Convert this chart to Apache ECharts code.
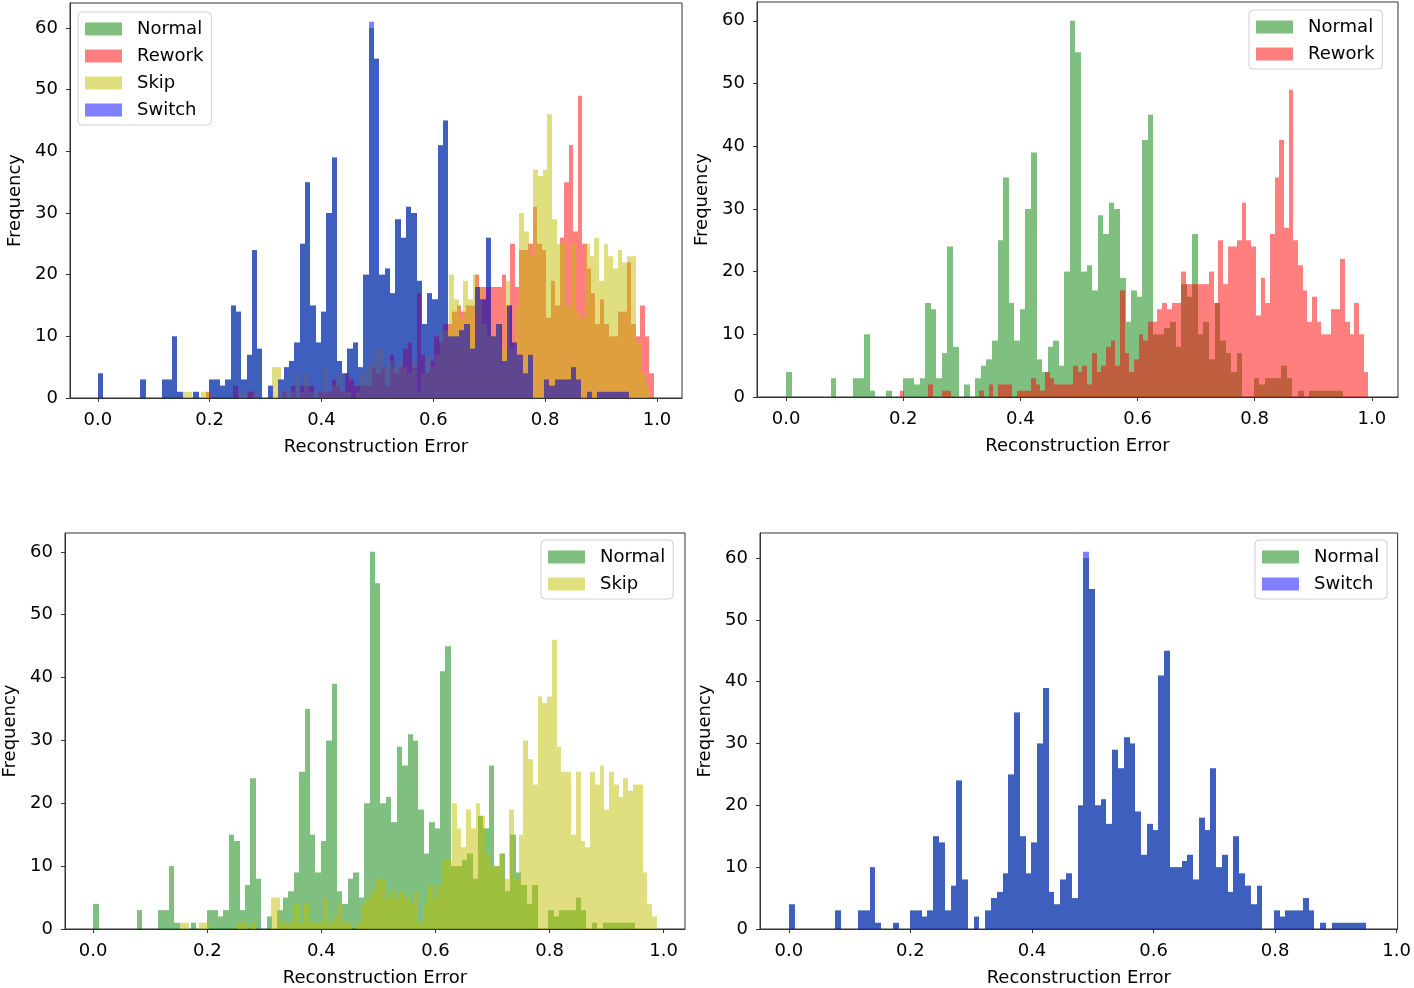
<!DOCTYPE html>
<html>
<head>
<meta charset="utf-8">
<title>Reconstruction Error histograms</title>
<script src="https://cdn.jsdelivr.net/npm/echarts@6/dist/echarts.min.js"></script>
<style>
  html, body { margin: 0; padding: 0; background: #fff; }
  #chart { width: 1414px; height: 988px; }
</style>
</head>
<body>
<div id="chart"></div>
<script>
// histogram counts, 100 bins per class
const normalCounts = [4,0,0,0,0,0,0,0,3,0, 0,0,3,3,10,1,0,0,1,0, 0,3,3,2,3,15,14,3,7,24,
  8,0,2,0,3,5,6,9,25,35, 15,9,14,30,39,6,4,8,9,5, 20,60,55,20,21,17,29,26,31,30,
  19,12,17,16,41,45,10,10,11,12, 8,18,16,26,10,12,6,15,9,7, 4,7,0,0,3,2,3,3,3,5,
  3,0,1,0,1,1,1,1,1,1];
const switchCounts = [4,0,0,0,0,0,0,0,3,0, 0,0,3,3,10,1,0,0,1,0, 0,3,3,2,3,15,14,3,7,24,
  8,0,2,0,3,5,6,9,25,35, 15,9,14,30,39,6,4,8,9,5, 20,61,55,20,21,17,29,26,31,30,
  19,12,17,16,41,45,10,10,11,12, 8,18,16,26,10,12,6,15,9,7, 4,7,0,0,3,2,3,3,3,5,
  3,0,1,0,1,1,1,1,1,1];
const reworkCounts = [1,0,0,0,0,0,2,0,0,1, 1,0,0,0,0,0,0,1,0,2, 0,2,2,2,0,1,1,1,3,2,
  1,4,3,2,2,2,2,5,4,5, 2,7,4,5,8,9,5,17,7,4, 6,10,9,12,12,14,15,14,15,15,
  20,18,18,18,18,18,20,15,25,18, 24,24,25,31,25,24,13,19,15,26, 35,41,27,49,25,21,17,12,16,12,
  10,10,14,14,22,12,10,15,10,4];
const skipCounts = [1,1,0,0,1,1,0,0,0,0, 0,0,1,1,0,1,0,0,0,5, 5,1,1,1,4,1,4,1,1,1,
  5,1,2,4,1,1,0,1,4,5, 6,8,8,5,6,5,6,5,4,6, 1,4,7,5,7,11,11,20,16,13,
  19,16,20,18,12,10,10,12,8,19, 8,15,30,27,23,37,36,37,46,29, 25,25,15,25,14,13,25,23,26,19,
  25,23,21,24,22,23,23,9,4,2];

// first bin edge and bin width of each class
const normalBins = [0.0, 0.0095];
const switchBins = [0.0, 0.0095];
const reworkBins = [0.194, 0.008];
const skipBins = [0.152, 0.00836];

const xTicks = [0, 0.2, 0.4, 0.6, 0.8, 1.0];
const yTicks = [0, 10, 20, 30, 40, 50, 60];

const classes = {
  Normal: { counts: normalCounts, bins: normalBins, color: 'rgba(0,128,0,0.5)' },
  Rework: { counts: reworkCounts, bins: reworkBins, color: 'rgba(255,0,0,0.5)' },
  Skip: { counts: skipCounts, bins: skipBins, color: 'rgba(191,191,0,0.5)' },
  Switch: { counts: switchCounts, bins: switchBins, color: 'rgba(0,0,255,0.5)' }
};

const panels = [
  { grid: { left: 70, top: 3, width: 612, height: 395 }, x: [-0.0497, 1.0447], yMax: 64.05,
    names: ['Normal', 'Rework', 'Skip', 'Switch'], legend: { left: 78, top: 12 } },
  { grid: { left: 757, top: 2, width: 641, height: 395 }, x: [-0.0497, 1.0447], yMax: 63,
    names: ['Normal', 'Rework'], legend: { left: 1249, top: 10 } },
  { grid: { left: 64, top: 533, width: 621, height: 399 }, x: [-0.0494, 1.0374], yMax: 63,
    names: ['Normal', 'Skip'], legend: { left: 541, top: 540 } },
  { grid: { left: 760, top: 533, width: 643, height: 400 }, x: [-0.0475, 1.0015], yMax: 64.05,
    names: ['Normal', 'Switch'], legend: { left: 1255, top: 540 } }
];

function histData(name) {
  const c = classes[name];
  return c.counts.map((v, i) => [c.bins[0] + i * c.bins[1], c.bins[0] + (i + 1) * c.bins[1], v]);
}

function histItem(color) {
  return function (params, api) {
    const a = api.coord([api.value(0), api.value(2)]);
    const b = api.coord([api.value(1), 0]);
    // snap bin edges to whole pixels so neighbouring bars leave no seam
    const x0 = Math.round(a[0]), x1 = Math.round(b[0]);
    return {
      type: 'rect',
      shape: { x: x0, y: a[1], width: x1 - x0, height: b[1] - a[1] },
      style: { fill: color }
    };
  };
}

const font = 'DejaVu Sans';
const grids = [], xAxes = [], yAxes = [], legends = [], series = [];

panels.forEach((p, k) => {
  grids.push(Object.assign({ show: true, borderColor: '#333', borderWidth: 1, backgroundColor: '#fff' }, p.grid));
  xAxes.push({
    type: 'value', gridIndex: k, min: p.x[0], max: p.x[1],
    name: 'Reconstruction Error', nameLocation: 'middle', nameGap: 40,
    nameTextStyle: { fontFamily: font, fontSize: 18, color: '#000' },
    axisLine: { show: true, onZero: false, lineStyle: { color: '#333', width: 1 } },
    axisTick: { show: true, length: 4, customValues: xTicks, lineStyle: { color: '#333' } },
    axisLabel: { customValues: xTicks, margin: 13, formatter: v => v.toFixed(1),
      fontFamily: font, fontSize: 18, color: '#000' },
    splitLine: { show: false }
  });
  yAxes.push({
    type: 'value', gridIndex: k, min: 0, max: p.yMax,
    name: 'Frequency', nameLocation: 'middle', nameGap: 46, nameRotate: 90,
    nameTextStyle: { fontFamily: font, fontSize: 18, color: '#000' },
    axisLine: { show: true, onZero: false, lineStyle: { color: '#333', width: 1 } },
    axisTick: { show: true, length: 4, customValues: yTicks, lineStyle: { color: '#333' } },
    axisLabel: { customValues: yTicks, margin: 12, padding: [11, 0, 0, 0],
      fontFamily: font, fontSize: 18, color: '#000' },
    splitLine: { show: false }
  });
  legends.push({
    orient: 'vertical', left: p.legend.left, top: p.legend.top,
    icon: 'rect', itemWidth: 37, itemHeight: 13, itemGap: 9,
    padding: [8, 8, 6, 7],
    backgroundColor: 'rgba(255,255,255,0.8)', borderColor: '#d0d0d0', borderWidth: 1, borderRadius: 4,
    selectedMode: false,
    textStyle: { fontFamily: font, fontSize: 18, color: '#000', padding: [0, 0, 0, 10] },
    data: p.names.map(n => ({ name: n, itemStyle: { color: classes[n].color } }))
  });
  p.names.forEach(n => {
    series.push({
      name: n, type: 'custom', xAxisIndex: k, yAxisIndex: k,
      renderItem: histItem(classes[n].color),
      itemStyle: { color: classes[n].color },
      encode: { x: [0, 1], y: 2 },
      data: histData(n),
      silent: true
    });
  });
});

const myChart = echarts.init(document.getElementById('chart'));
myChart.setOption({
  animation: false,
  backgroundColor: '#fff',
  grid: grids,
  xAxis: xAxes,
  yAxis: yAxes,
  legend: legends,
  series: series
});
</script>
</body>
</html>
